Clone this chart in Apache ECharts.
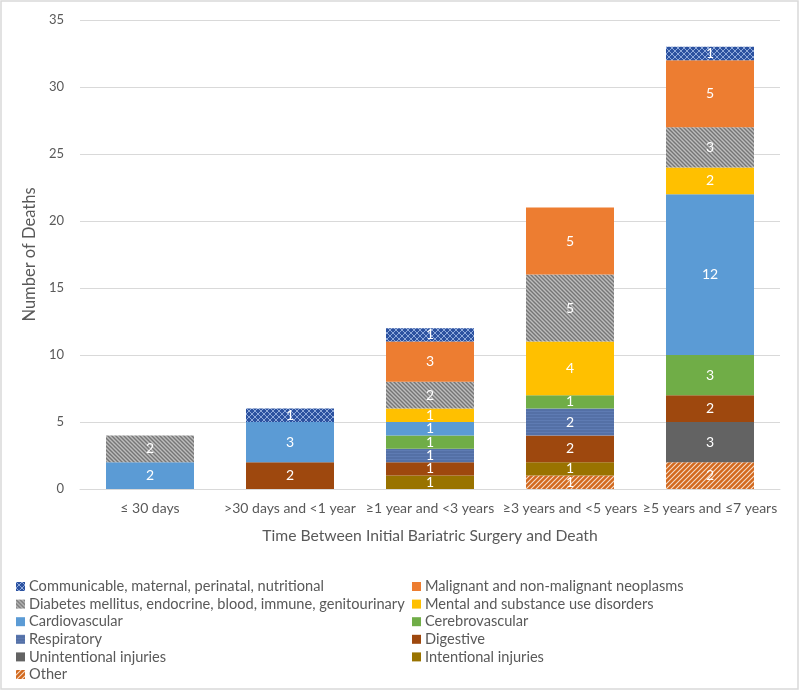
<!DOCTYPE html>
<html><head><meta charset="utf-8">
<script src="https://cdn.jsdelivr.net/npm/echarts@6/dist/echarts.min.js"></script>
<style>html,body{margin:0;padding:0;background:#fff}#c{width:800px;height:692px}</style>
</head><body><div id="c"></div>
<script>
var categories = ['≤ 30 days', '>30 days and <1 year', '≥1 year and <3 years', '≥3 years and <5 years', '≥5 years and ≤7 years'];
var yTicks = [0, 5, 10, 15, 20, 25, 30, 35];
// stacked bottom -> top
var other          = [0, 0, 0, 1, 2];
var intentional    = [0, 0, 1, 1, 0];
var unintentional  = [0, 0, 0, 0, 3];
var digestive      = [0, 2, 1, 2, 2];
var respiratory    = [0, 0, 1, 2, 0];
var cerebrovascular= [0, 0, 1, 1, 3];
var cardiovascular = [2, 3, 1, 0, 12];
var mental         = [0, 0, 1, 4, 2];
var diabetes       = [2, 0, 2, 5, 3];
var malignant      = [0, 0, 3, 5, 5];
var communicable   = [0, 1, 1, 0, 1];

var names = {
  communicable: 'Communicable, maternal, perinatal, nutritional',
  malignant: 'Malignant and non-malignant neoplasms',
  diabetes: 'Diabetes mellitus, endocrine, blood, immune, genitourinary',
  mental: 'Mental and substance use disorders',
  cardiovascular: 'Cardiovascular',
  cerebrovascular: 'Cerebrovascular',
  respiratory: 'Respiratory',
  digestive: 'Digestive',
  unintentional: 'Unintentional injuries',
  intentional: 'Intentional injuries',
  other: 'Other'
};

function pat(size, draw) {
  var c = document.createElement('canvas');
  c.width = size; c.height = size;
  var g = c.getContext('2d');
  draw(g, size);
  return {image: c, repeat: 'repeat'};
}
var crossBlue = pat(6, function (g, s) {
  g.fillStyle = '#2C52A0'; g.fillRect(0, 0, s, s);
  g.strokeStyle = '#8EA9DB'; g.lineWidth = 1;
  g.beginPath(); g.moveTo(0, 0); g.lineTo(s, s); g.moveTo(s, 0); g.lineTo(0, s); g.stroke();
});
var grayDiag = pat(4, function (g, s) {
  g.fillStyle = '#BDBDBD'; g.fillRect(0, 0, s, s);
  g.strokeStyle = '#767676'; g.lineWidth = 1.4;
  g.beginPath();
  g.moveTo(-1, -1); g.lineTo(s + 1, s + 1);
  g.moveTo(-1, s - 1); g.lineTo(1, s + 1);
  g.moveTo(s - 1, -1); g.lineTo(s + 1, 1);
  g.stroke();
});
var orangeDiag = pat(5, function (g, s) {
  g.fillStyle = '#D2691E'; g.fillRect(0, 0, s, s);
  g.strokeStyle = '#F6DCC8'; g.lineWidth = 1.1;
  g.beginPath();
  g.moveTo(-1, s + 1); g.lineTo(s + 1, -1);
  g.moveTo(-1, 1); g.lineTo(1, -1);
  g.moveTo(s - 1, s + 1); g.lineTo(s + 1, s - 1);
  g.stroke();
});
var respLines = pat(3, function (g, s) {
  g.fillStyle = '#5470A6'; g.fillRect(0, 0, s, s);
  g.fillStyle = '#5E7BB3'; g.fillRect(0, 0, s, 1);
});

var order = [
  ['other', other, orangeDiag],
  ['intentional', intentional, '#997300'],
  ['unintentional', unintentional, '#636363'],
  ['digestive', digestive, '#9E480E'],
  ['respiratory', respiratory, respLines],
  ['cerebrovascular', cerebrovascular, '#70AD47'],
  ['cardiovascular', cardiovascular, '#5B9BD5'],
  ['mental', mental, '#FFC000'],
  ['diabetes', diabetes, grayDiag],
  ['malignant', malignant, '#ED7D31'],
  ['communicable', communicable, crossBlue]
];

var FONT = 'Lato';
var series = order.map(function (o) {
  return {
    name: names[o[0]], type: 'bar', stack: 'total', barWidth: 88,
    data: o[1],
    itemStyle: {color: o[2]},
    label: {show: true, position: 'inside', color: '#fff', fontSize: 14, fontFamily: FONT,
      formatter: function (p) { return p.value ? String(p.value) : ''; }},
    emphasis: {disabled: true}
  };
});

var legendStyle = {orient: 'vertical', padding: 0, itemGap: 2.6, itemWidth: 9, itemHeight: 9, icon: 'rect',
  textStyle: {color: '#595959', fontSize: 14.6, fontFamily: FONT, padding: [0, 0, 0, -1]}};

var chart = echarts.init(document.getElementById('c'), null, {renderer: 'canvas'});
chart.setOption({
  animation: false,
  grid: {left: 80, right: 20, top: 20, bottom: 203},
  legend: [
    Object.assign({left: 16, top: 579, data: [names.communicable, names.diabetes, names.cardiovascular, names.respiratory, names.unintentional, names.other]}, legendStyle),
    Object.assign({left: 412, top: 579, data: [names.malignant, names.mental, names.cerebrovascular, names.digestive, names.intentional]}, legendStyle)
  ],
  xAxis: {
    type: 'category', data: categories,
    name: 'Time Between Initial Bariatric Surgery and Death', nameLocation: 'middle', nameGap: 39,
    nameTextStyle: {color: '#595959', fontSize: 15.7, fontFamily: FONT},
    axisLine: {lineStyle: {color: '#D9D9D9'}}, axisTick: {show: false},
    axisLabel: {color: '#595959', fontSize: 14, fontFamily: FONT, margin: 12, interval: 0}
  },
  yAxis: {
    type: 'value', min: yTicks[0], max: yTicks[yTicks.length - 1], interval: 5,
    name: 'Number of Deaths', nameLocation: 'middle', nameGap: 38,
    nameTextStyle: {color: '#595959', fontSize: 16.5, fontFamily: FONT},
    axisLine: {show: false}, axisTick: {show: false},
    axisLabel: {color: '#595959', fontSize: 13, fontFamily: FONT, margin: 16},
    splitLine: {lineStyle: {color: '#D9D9D9'}}
  },
  graphic: [{type: 'rect', shape: {x: 1, y: 1, width: 797, height: 688}, style: {fill: null, stroke: '#D9D9D9', lineWidth: 1.5}, silent: true}],
  series: series
});
</script></body></html>
